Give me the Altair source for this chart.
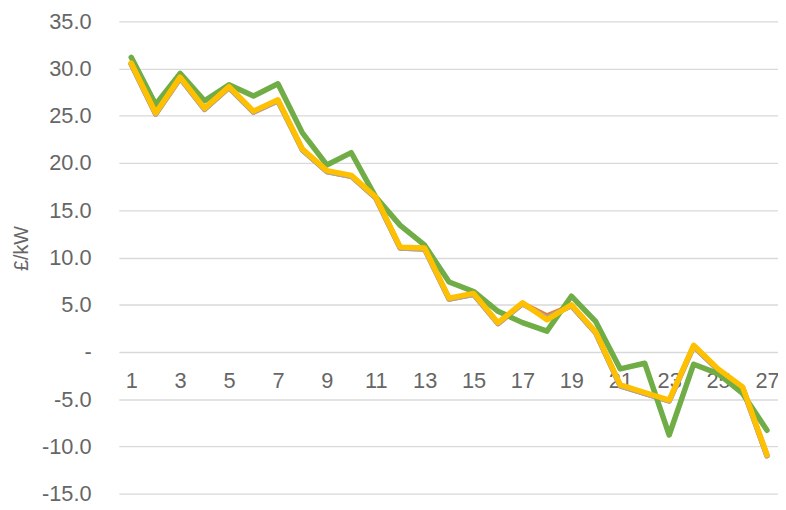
import altair as alt
import pandas as pd

periods = list(range(1, 28))
green = [31.2, 26.2, 29.5, 26.6, 28.3, 27.1, 28.4, 23.2, 19.8, 21.1, 16.4, 13.4, 11.3, 7.4, 6.4, 4.3, 3.1, 2.2, 5.9, 3.2, -1.8, -1.2, -8.8, -1.3, -2.3, -4.4, -8.3]
orange = [30.5, 25.2, 29.0, 25.7, 28.0, 25.4, 26.6, 21.4, 19.1, 18.6, 16.3, 11.0, 10.9, 5.6, 6.1, 3.0, 5.1, 3.8, 4.9, 2.0, -3.6, -4.4, -5.2, 0.6, -1.9, -3.8, -11.0]
gray = [30.5, 25.2, 29.0, 25.7, 28.0, 25.4, 26.6, 21.4, 19.1, 18.6, 16.3, 11.0, 10.9, 5.6, 6.1, 3.0, 5.1, 3.6, 4.9, 2.0, -3.6, -4.4, -5.2, 0.6, -1.9, -3.8, -11.0]
yellow = [30.6, 25.3, 29.1, 25.8, 28.1, 25.5, 26.7, 21.5, 19.2, 18.7, 16.4, 11.1, 11.0, 5.7, 6.2, 3.1, 5.2, 3.4, 5.0, 2.1, -3.5, -4.3, -5.1, 0.7, -1.8, -3.7, -10.9]

series = [("orange", orange, "#ED7D31"), ("gray", gray, "#A5A5A5"),
          ("green", green, "#70AD47"), ("yellow", yellow, "#FFC000")]

FONT = "Liberation Sans"
TXT = "#666666"

x_enc = alt.X(
    "period:Q",
    scale=alt.Scale(domain=[0.494, 27.45], nice=False, zero=False),
    axis=alt.Axis(values=list(range(1, 28, 2)), offset=-143, domain=False, ticks=False,
                  grid=False, labelFontSize=22, labelColor=TXT, labelFont=FONT,
                  labelPadding=19, labelFlush=False, labelOverlap=False, title=None),
)
y_enc = alt.Y(
    "value:Q",
    scale=alt.Scale(domain=[-15, 35], nice=False, zero=False),
    axis=alt.Axis(values=list(range(-15, 40, 5)),
                  labelExpr="datum.value == 0 ? '-' : replace(format(datum.value, '.1f'), '\u2212', '-')",
                  grid=True, gridColor="#d9d9d9", gridWidth=1.3, domain=False, ticks=False,
                  labelFontSize=22, labelColor=TXT, labelFont=FONT, labelPadding=28,
                  title="£/kW", titleFontSize=20, titleFont=FONT, titleColor=TXT,
                  titleFontWeight="normal", titleAngle=270, titleX=-98, titleY=229,
                  titleAlign="center", titleBaseline="middle"),
)

layers = []
for name, vals, col in series:
    d = pd.DataFrame({"period": periods, "value": vals, "series": name})
    layers.append(
        alt.Chart(d).mark_line(color=col, strokeWidth=5.5, strokeCap="round", strokeJoin="round")
        .encode(x=x_enc, y=y_enc)
    )

chart = alt.layer(*layers).properties(
    width=666, height=477,
    autosize=alt.AutoSizeParams(type="none"),
    padding={"left": 112, "top": 11, "right": 0, "bottom": 10},
).configure_view(stroke=None)

chart.save("out.html", embed_options={"renderer": "svg", "actions": False})
